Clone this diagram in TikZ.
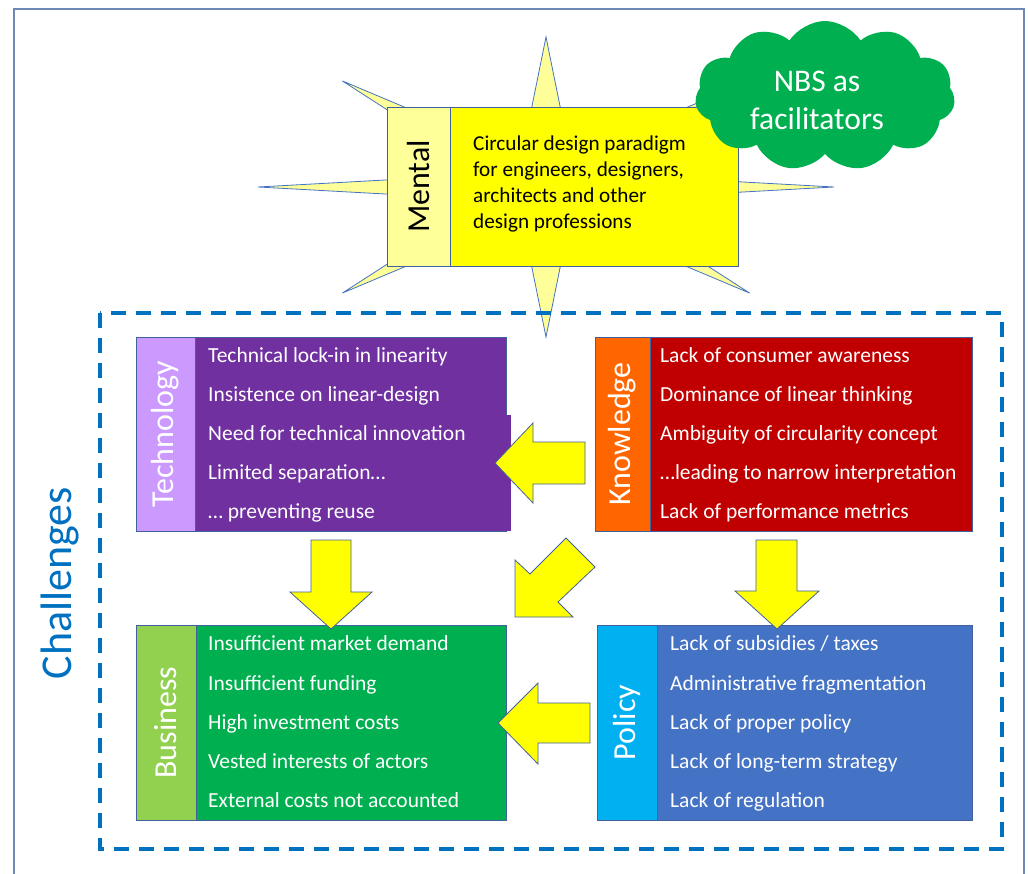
\documentclass[tikz,border=0pt]{standalone}
\usepackage{fontspec}
\setmainfont{Carlito}
\usetikzlibrary{shapes.symbols}
\definecolor{tpurple}{HTML}{7030A0}
\definecolor{tlpurple}{HTML}{CC99FF}
\definecolor{kred}{HTML}{C00000}
\definecolor{korange}{HTML}{FF6600}
\definecolor{bgreen}{HTML}{00B050}
\definecolor{blgreen}{HTML}{92D050}
\definecolor{pblue}{HTML}{4472C4}
\definecolor{pcyan}{HTML}{00B0F0}
\definecolor{myellow}{HTML}{FFFF00}
\definecolor{mlyellow}{HTML}{FFFF99}
\definecolor{edge}{HTML}{41619C}
\definecolor{dashblue}{HTML}{0070C0}
\definecolor{framec}{HTML}{6F86B8}
\tikzset{
  box/.style={draw=edge, line width=0.8pt, anchor=north west, inner sep=0pt, outer sep=0pt},
  item/.style={anchor=base west, inner sep=0pt, text=white, font=\fontsize{21.5}{24}\selectfont},
  mitem/.style={anchor=base west, inner sep=0pt, text=black, font=\fontsize{21.2}{24}\selectfont},
  vlabel/.style={rotate=90, inner sep=0pt, font=\fontsize{32}{34}\selectfont},
  fatarrow/.style={fill=myellow, draw=edge, line width=0.8pt, line join=miter},
}
\begin{document}
\begin{tikzpicture}[x=1pt,y=-1pt]
\useasboundingbox (0,0) rectangle (1028,873);
% outer frame
\draw[framec, line width=1.6pt] (14,880) -- (14,9) -- (1024,9) -- (1024,880);
% star
\filldraw[fill=mlyellow, draw=pblue, line width=0.8pt] (546,37)
  \foreach \k [evaluate=\k as \r using {ifthenelse(mod(\k,2)==0,1,0.22)}, evaluate=\k as \a using {90-\k*22.5}] in {1,...,15} { -- ({546+288*\r*cos(\a)},{187-150*\r*sin(\a)}) } -- cycle;
% mental box
\node[box, fill=mlyellow, minimum width=63pt, minimum height=159pt] (mentL) at (387,107) {};
\node[box, fill=myellow, minimum width=288pt, minimum height=159pt] (mentR) at (450,107) {};
\node[vlabel, text=black] (mentT) at (mentL.center) {Mental};
\node[mitem] (m1) at (473,150) {Circular design paradigm};
\node[mitem] (m2) at (473,176) {for engineers, designers,};
\node[mitem] (m3) at (473,202) {architects and other};
\node[mitem] (m4) at (473,228) {design professions};
% cloud
\node[cloud, cloud puffs=11, cloud puff arc=115, aspect=1.7, fill=bgreen, minimum width=260pt, minimum height=150pt, inner sep=0pt] (nbs) at (825,96) {};
\node[text=white, align=center, font=\fontsize{31.5}{38}\selectfont] (nbstext) at (817,100) {NBS as\\facilitators};
% dashed challenges box
\draw[dashblue, line width=3.2pt, dash pattern=on 15pt off 10pt] (100,313) rectangle (1002,849);
\node[rotate=90, text=dashblue, font=\fontsize{44}{48}\selectfont, inner sep=0pt] (chal) at (60,583) {Challenges};
% technology
\node[box, fill=tlpurple, minimum width=59pt, minimum height=194pt] (techL) at (136,337) {};
\node[box, fill=tpurple, minimum width=311pt, minimum height=194pt] (techR) at (195,337) {};
\fill[tpurple] (techR.north east) ++(-0.5,78) rectangle (510.5,530.6);
\node[vlabel, text=white] (techT) at (techL.center) {Technology};
\node[item] (t1) at (208,362) {Technical lock-in in linearity};
\node[item] (t2) at (208,401) {Insistence on linear-design};
\node[item] (t3) at (208,440) {Need for technical innovation};
\node[item] (t4) at (208,479) {Limited separation…};
\node[item] (t5) at (208,518) {… preventing reuse};
% knowledge
\node[box, fill=korange, minimum width=55pt, minimum height=194pt] (knowL) at (595,337) {};
\node[box, fill=kred, minimum width=322pt, minimum height=194pt] (knowR) at (650,337) {};
\node[vlabel, text=white] (knowT) at (knowL.center) {Knowledge};
\node[item] (k1) at (660,362) {Lack of consumer awareness};
\node[item] (k2) at (660,401) {Dominance of linear thinking};
\node[item] (k3) at (660,440) {Ambiguity of circularity concept};
\node[item] (k4) at (660,479) {…leading to narrow interpretation};
\node[item] (k5) at (660,518) {Lack of performance metrics};
% business
\node[box, fill=blgreen, minimum width=60pt, minimum height=195pt] (busL) at (136,625) {};
\node[box, fill=bgreen, minimum width=310pt, minimum height=195pt] (busR) at (196,625) {};
\node[vlabel, text=white] (busT) at (busL.center) {Business};
\node[item] (b1) at (208,650) {Insufficient market demand};
\node[item] (b2) at (208,690) {Insufficient funding};
\node[item] (b3) at (208,729) {High investment costs};
\node[item] (b4) at (208,768) {Vested interests of actors};
\node[item] (b5) at (208,807) {External costs not accounted};
% policy
\node[box, fill=pcyan, minimum width=60pt, minimum height=195pt] (polL) at (597,625) {};
\node[box, fill=pblue, minimum width=315pt, minimum height=195pt] (polR) at (657,625) {};
\node[vlabel, text=white] (polT) at (polL.center) {Policy};
\node[item] (p1) at (670,650) {Lack of subsidies / taxes};
\node[item] (p2) at (670,690) {Administrative fragmentation};
\node[item] (p3) at (670,729) {Lack of proper policy};
\node[item] (p4) at (670,768) {Lack of long-term strategy};
\node[item] (p5) at (670,807) {Lack of regulation};
% block arrows
\filldraw[fatarrow] (495,463) -- (533,423) -- (533,442) -- (585,442) -- (585,484) -- (533,484) -- (533,503) -- cycle;
\filldraw[fatarrow] (498,723) -- (538,683) -- (538,703) -- (590,703) -- (590,743) -- (538,743) -- (538,764) -- cycle;
\filldraw[fatarrow] (331,629) -- (290,592) -- (311,592) -- (311,540) -- (351,540) -- (351,592) -- (372,592) -- cycle;
\filldraw[fatarrow] (777,629) -- (735,591) -- (756,591) -- (756,540) -- (797,540) -- (797,591) -- (819,591) -- cycle;
\filldraw[fatarrow] (515,617) -- (515,560) -- (530,574) -- (566,538) -- (595,567) -- (558,602) -- (573,617) -- cycle;
\end{tikzpicture}
\end{document}
